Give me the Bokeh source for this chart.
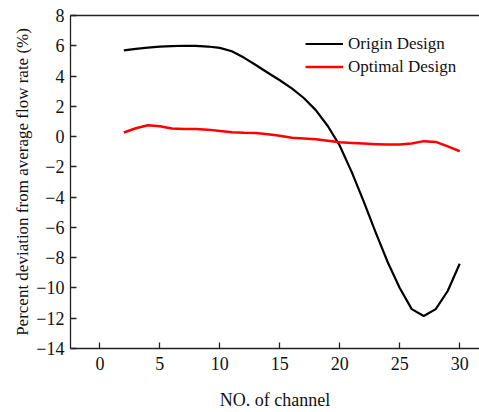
from bokeh.plotting import figure
from bokeh.models import Legend, LegendItem, LinearAxis, FixedTicker
from bokeh.embed import file_html
from bokeh.resources import INLINE

channels = list(range(2, 31))
origin_design = [5.7, 5.8, 5.88, 5.94, 5.98, 6.0, 5.99, 5.95, 5.86, 5.64,
                 5.22, 4.73, 4.22, 3.72, 3.18, 2.55, 1.75, 0.7, -0.6, -2.35,
                 -4.3, -6.35, -8.3, -10.0, -11.4, -11.85, -11.4, -10.2, -8.4]
optimal_design = [0.27, 0.55, 0.75, 0.68, 0.53, 0.5, 0.5, 0.46, 0.37, 0.29,
                  0.25, 0.23, 0.15, 0.05, -0.08, -0.13, -0.17, -0.27, -0.37, -0.42,
                  -0.46, -0.5, -0.53, -0.53, -0.45, -0.3, -0.35, -0.65, -0.97]
x_ticks = [0, 5, 10, 15, 20, 25, 30]
y_ticks = [8, 6, 4, 2, 0, -2, -4, -6, -8, -10, -12, -14]

FONT = "Liberation Serif"

p = figure(width=479, height=412, output_backend="svg", toolbar_location=None,
           x_range=(-2.45, 31.65), y_range=(-14, 8),
           min_border_left=70, min_border_right=0, min_border_top=15, min_border_bottom=60)
p.outline_line_color = None
p.xgrid.visible = False
p.ygrid.visible = False

r1 = p.line(channels, origin_design, line_color="black", line_width=2.2, line_join="round")
r2 = p.line(channels, optimal_design, line_color="#ff0000", line_width=2.5, line_join="round")

for ax in (p.xaxis[0], p.yaxis[0]):
    ax.major_tick_in = 6
    ax.major_tick_out = 0
    ax.minor_tick_in = 0
    ax.minor_tick_out = 0
    ax.axis_line_color = "#222222"
    ax.axis_line_width = 1.3
    ax.major_tick_line_color = "#222222"
    ax.major_tick_line_width = 1.3
    ax.major_label_text_font = FONT
    ax.major_label_text_font_size = "18px"
    ax.major_label_text_color = "#111111"
    ax.axis_label_text_font = FONT
    ax.axis_label_text_font_style = "normal"
    ax.axis_label_text_color = "#111111"

p.xaxis[0].axis_label_text_font_size = "18px"
p.yaxis[0].axis_label_text_font_size = "17px"
p.xaxis[0].ticker = FixedTicker(ticks=x_ticks)
p.yaxis[0].ticker = FixedTicker(ticks=y_ticks)
p.xaxis[0].axis_label = "NO. of channel"
p.yaxis[0].axis_label = "Percent deviation from average flow rate (%)"
p.xaxis[0].major_label_standoff = 8
p.yaxis[0].major_label_standoff = 6
p.xaxis[0].axis_label_standoff = 17
p.yaxis[0].axis_label_standoff = 1

top = LinearAxis(ticker=FixedTicker(ticks=[]), major_label_text_font_size="0px",
                 axis_line_color="#222222", axis_line_width=1.3,
                 major_tick_line_color=None, minor_tick_line_color=None)
p.add_layout(top, "above")

legend = Legend(items=[LegendItem(label="Origin Design", renderers=[r1]),
                       LegendItem(label="Optimal Design", renderers=[r2])],
                location=(235, 270), padding=0, margin=0, spacing=0,
                glyph_width=38, glyph_height=23, label_height=23, label_standoff=5,
                label_text_font=FONT, label_text_font_size="17px",
                label_text_color="#111111",
                border_line_color=None, background_fill_alpha=0)
p.add_layout(legend)

open("out.html", "w").write(file_html(p, INLINE))
